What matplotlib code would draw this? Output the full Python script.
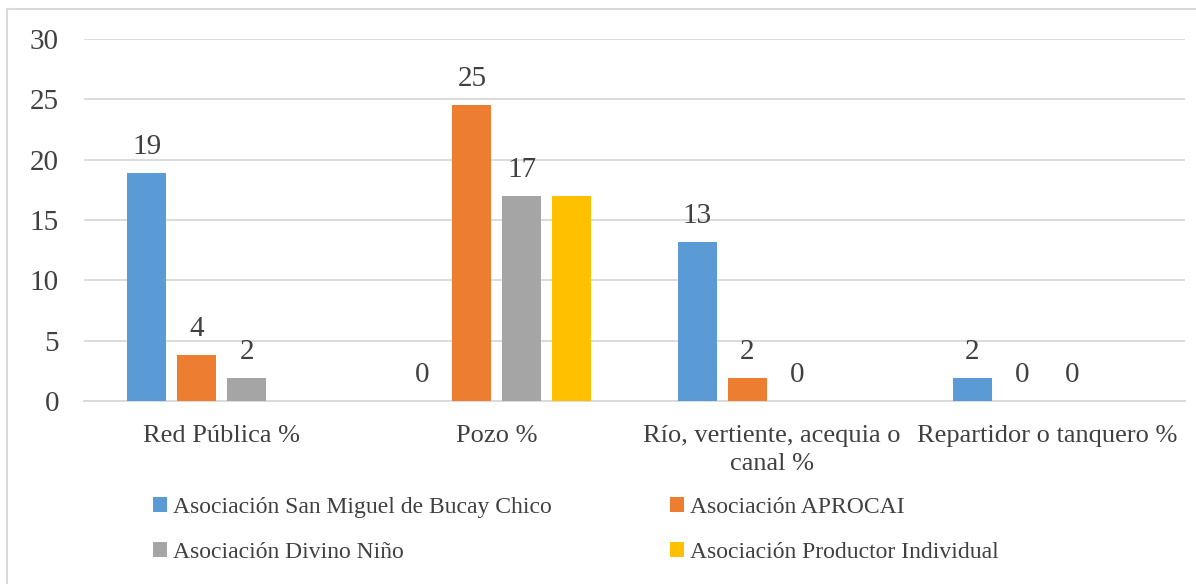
import numpy as np
import matplotlib
matplotlib.use("Agg")
import matplotlib.pyplot as plt
from matplotlib.lines import Line2D
from matplotlib.patches import Patch

categories = ["Red Pública %", "Pozo %", "Río, vertiente, acequia o\ncanal %", "Repartidor o tanquero %"]
series_names = ["Asociación San Miguel de Bucay Chico", "Asociación APROCAI",
                "Asociación Divino Niño", "Asociación Productor Individual"]
san_miguel = [18.9, 0.0, 13.2, 1.9]
aprocai = [3.8, 24.5, 1.9, 0.0]
divino_nino = [1.9, 17.0, 0.0, 0.0]
productor = [np.nan, 17.0, np.nan, np.nan]
labels_san_miguel = ["19", "0", "13", "2"]
labels_aprocai = ["4", "25", "2", "0"]
labels_divino = ["2", "17", "0", "0"]
labels_productor = ["", "", "", ""]
colors = ["#5B9BD5", "#ED7D31", "#A5A5A5", "#FFC000"]
yticks = [0, 5, 10, 15, 20, 25, 30]

plt.rcParams['font.family'] = ['Liberation Serif', 'DejaVu Serif']
text_color = "#404040"

fig = plt.figure(figsize=(11.96, 5.84), dpi=100)
ax = fig.add_axes([84/1196, 1-401/584, (1185-84)/1196, (401-39)/584])

x = np.arange(len(categories))
width = 0.1417
step = 0.1817
all_vals = [san_miguel, aprocai, divino_nino, productor]
all_labels = [labels_san_miguel, labels_aprocai, labels_divino, labels_productor]
for i, (vals, labs) in enumerate(zip(all_vals, all_labels)):
    pos = x + (i - 1.5) * step
    v = np.array(vals, dtype=float)
    ax.bar(pos, np.nan_to_num(v, nan=0.0), width=width, color=colors[i], zorder=3)
    for p, val, lab in zip(pos, v, labs):
        if lab and not np.isnan(val):
            ax.annotate(lab, (p, val), xytext=(0, 9.5), textcoords="offset points",
                        ha="center", va="bottom", fontsize=21, color=text_color)

ax.set_xlim(-0.5, len(categories) - 0.5)
ax.set_ylim(0, 30)
ax.set_yticks(yticks)
ax.set_xticks(x)
ax.set_xticklabels(categories, fontsize=19, color=text_color, linespacing=1.35)
ax.tick_params(axis='y', labelsize=21, labelcolor=text_color, length=0, pad=18)
ax.tick_params(axis='x', length=0, pad=17)
ax.grid(axis='y', color="#D9D9D9", linewidth=1.3, zorder=0)
for s in ["top", "right", "left"]:
    ax.spines[s].set_visible(False)
ax.spines["bottom"].set_color("#D9D9D9")
ax.spines["bottom"].set_linewidth(1.3)

order = [0, 2, 1, 3]
handles = [Patch(facecolor=colors[k], edgecolor='none') for k in order]
names = [series_names[k] for k in order]
leg = fig.legend(handles, names, loc="upper left", ncol=2,
                 bbox_to_anchor=(132/1196, 1-476/584), frameon=False,
                 fontsize=17, handlelength=0.6, handleheight=0.6, handletextpad=0.25,
                 columnspacing=5.0, labelspacing=1.0)
for t in leg.get_texts():
    t.set_color(text_color)

# outer frame (top and left visible)
fig.add_artist(Line2D([7/1196, 1], [1-9/584, 1-9/584], color="#D9D9D9", linewidth=1.5, transform=fig.transFigure))
fig.add_artist(Line2D([7/1196, 7/1196], [0, 1-9/584], color="#D9D9D9", linewidth=1.5, transform=fig.transFigure))

fig.savefig("out.png", dpi=100)
